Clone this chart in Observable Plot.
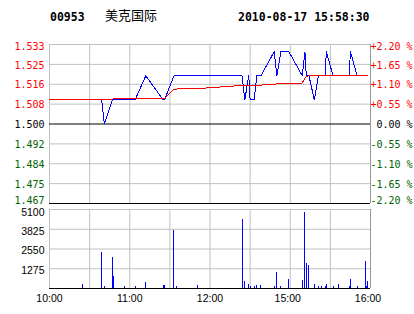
<!DOCTYPE html>
<html><head><meta charset="utf-8">
<script src="https://cdn.jsdelivr.net/npm/d3@7"></script>
<script src="https://cdn.jsdelivr.net/npm/@observablehq/plot@0.6"></script>
<style>
html,body{margin:0;padding:0;background:#fff;}
#wrap{position:relative;width:414px;height:314px;overflow:hidden;background:#fff;}
.t{position:absolute;white-space:nowrap;color:#000;}
.code,.date{font:bold 11.5px "DejaVu Sans Mono",monospace;line-height:12px;top:11px;}
.name{font:13px "Noto Sans CJK SC",sans-serif;line-height:13px;top:8px;}
#price,#vol{position:absolute;left:0;}
#price{top:0px;}
#vol{top:206px;}
</style></head><body>
<div id="wrap">
  <div class="t code" id="code" style="left:50px"></div>
  <div class="t name" id="name" style="left:105px"></div>
  <div class="t date" id="date" style="left:238px"></div>
  <div id="price"></div>
  <div id="vol"></div>
</div>
<script>
// ---- data ----
const stockCode = "00953";
const stockName = "美克国际";
const stamp = "2010-08-17 15:58:30";
const prevClose = 1.500;

const pctTicks = [2.20, 1.65, 1.10, 0.55, 0, -0.55, -1.10, -1.65, -2.20];
const priceLabels = ["1.533","1.525","1.516","1.508","1.500","1.492","1.484","1.475","1.467"];
const pctLabels = ["+2.20 %","+1.65 %","+1.10 %","+0.55 %","\u00a00.00 %","-0.55 %","-1.10 %","-1.65 %","-2.20 %"];

const gridTimes = ["10:00","10:30","11:00","11:30","12:00","12:30","15:00","15:30","16:00"];
const xLabels = ["10:00","11:00","12:00","15:00","16:00"];

const volTicks = [1275, 2550, 3825, 5100];
const volLabels = ["1275","2550","3825","5100"];

const priceTimes = ["10:25","10:39","10:41","10:47","10:48","10:56","11:04","11:12","11:25","11:26","11:33","11:35","11:51",
  "12:24","12:26","12:29","14:30","14:33","14:35","14:38","14:48","14:50","14:53","14:59","15:09","15:11","15:12","15:14",
  "15:18","15:21","15:23","15:26","15:27","15:32","15:36","15:44","15:45","15:50","15:56","15:57","15:58"];
const prices = [1.51,1.51,1.50,1.51,1.51,1.51,1.51,1.52,1.51,1.51,1.52,1.52,1.52,
  1.52,1.51,1.52,1.51,1.51,1.52,1.52,1.53,1.52,1.53,1.53,1.52,1.53,1.52,1.52,
  1.51,1.52,1.52,1.52,1.53,1.52,1.52,1.52,1.53,1.52,1.52,1.52,1.52];

const avgTimes = ["10:00","10:39","11:26","11:33","11:51","12:24","14:48","14:50","15:09","15:11","15:14","15:58"];
const avgPrices = [1.5103,1.5103,1.5107,1.5145,1.5147,1.5160,1.5163,1.5168,1.5170,1.5192,1.5201,1.5201];

const volTimes = ["10:25","10:39","10:41","10:47","10:48","10:56","11:04","11:12","11:25","11:26","11:33","11:35","11:51",
  "12:24","12:26","12:29","14:30","14:33","14:35","14:38","14:48","14:50","14:53","14:59","15:09","15:11","15:12","15:14",
  "15:18","15:21","15:23","15:26","15:27","15:32","15:36","15:44","15:45","15:50","15:56","15:57","15:58"];
const volumes = [240,2300,110,1980,750,110,110,370,180,180,3720,110,180,
  4430,430,240,130,130,190,190,130,1010,130,560,500,4890,1600,1470,
  240,130,130,130,240,130,240,130,560,130,1720,130,430];

// ---- helpers ----
function toT(s){ const [h,m]=s.split(":").map(Number); const mm=h*60+m; return mm<=750 ? mm-600 : 150+(mm-870); }

document.getElementById("code").textContent = stockCode;
document.getElementById("name").textContent = stockName;
document.getElementById("date").textContent = stamp;

const lo = prevClose*(1+pctTicks[pctTicks.length-1]/100);
const hi = prevClose*(1+pctTicks[0]/100);
const tickVals = pctTicks.map(p => prevClose*(1+p/100));
const gridT = gridTimes.map(toT);
const RED="#ff0000", GREEN="#006400", GRID="#c0c0c0";

const lab = pctTicks.map((p,i)=>({i, v:tickVals[i], left:priceLabels[i], right:pctLabels[i], c: p>0?RED:(p<0?GREEN:"#000000")}));
const nL = lab.length;
const blue = priceTimes.map((s,i)=>({t:toT(s), p:prices[i]}));
const avg = avgTimes.map((s,i)=>({t:toT(s), p:avgPrices[i]}));
const vol = volTimes.map((s,i)=>({t:toT(s), v:volumes[i]}));

function priceText(filter, dy){
  return [
    Plot.text(lab, {filter, y:"v", text:"left", fill:"c", frameAnchor:"left", textAnchor:"end", dx:-5, dy, fontFamily:"DejaVu Sans Mono", fontSize:10}),
    Plot.text(lab, {filter, y:"v", text:"right", fill:"c", frameAnchor:"right", textAnchor:"start", dx:0, dy, fontFamily:"DejaVu Sans Mono", fontSize:10})
  ];
}

const pricePlot = Plot.plot({
  width:414, height:206, marginTop:44, marginBottom:3, marginLeft:49, marginRight:44,
  style:{background:"transparent"},
  x:{domain:[0,240], axis:null},
  y:{domain:[lo,hi], axis:null},
  color:{type:"identity"},
  marks:[
    Plot.ruleY(tickVals.filter((v,i)=>pctTicks[i]!==0 && i!==nL-1), {stroke:GRID}),
    Plot.ruleX(gridT, {stroke:GRID}),
    Plot.ruleX([240], {stroke:"#999"}),
    Plot.ruleY([prevClose], {stroke:"#000"}),
    Plot.ruleY([lo], {stroke:"#000"}),
    Plot.line(blue, {x:"t", y:"p", stroke:"#0000ff", strokeWidth:1, shapeRendering:"crispEdges"}),
    Plot.line(avg, {x:"t", y:"p", stroke:RED, strokeWidth:1, shapeRendering:"crispEdges"}),
    ...priceText(d=>d.i===0, 2),
    ...priceText(d=>d.i>0 && d.i<nL-1, 1),
    ...priceText(d=>d.i===nL-1, -2.5)
  ]
});
document.getElementById("price").appendChild(pricePlot);

const vlab = volTicks.map((v,i)=>({v, s:volLabels[i], top: v===d3.max(volTicks)}));
const volPlot = Plot.plot({
  width:414, height:108, marginTop:3, marginBottom:26, marginLeft:49, marginRight:44,
  style:{background:"transparent"},
  x:{domain:[0,240], axis:null},
  y:{domain:[0,d3.max(volTicks)], axis:null},
  marks:[
    Plot.ruleY(volTicks, {stroke:GRID}),
    Plot.ruleX(gridT, {stroke:GRID}),
    Plot.ruleX([240], {stroke:"#999"}),
    Plot.ruleX(vol, {x:"t", y1:0, y2:"v", stroke:"#0000ff", strokeWidth:1, shapeRendering:"crispEdges"}),
    Plot.ruleY([0], {stroke:"#000"}),
    Plot.text(vlab, {filter:d=>d.top, y:"v", text:"s", frameAnchor:"left", textAnchor:"end", dx:-5, dy:3.5, fontFamily:"Liberation Sans", fontSize:10.5, fill:"#000"}),
    Plot.text(vlab, {filter:d=>!d.top, y:"v", text:"s", frameAnchor:"left", textAnchor:"end", dx:-5, dy:2, fontFamily:"Liberation Sans", fontSize:10.5, fill:"#000"}),
    Plot.text(xLabels, {filter:d=>toT(d)<=150, x:d=>toT(d), text:d=>d, frameAnchor:"bottom", lineAnchor:"middle", dy:10, fontFamily:"Liberation Sans", fontSize:10.5, fill:"#000"}),
    Plot.text(xLabels, {filter:d=>toT(d)>150, x:d=>toT(d), text:d=>d, frameAnchor:"bottom", lineAnchor:"middle", dy:10, dx:-2.5, fontFamily:"Liberation Sans", fontSize:10.5, fill:"#000"})
  ]
});
document.getElementById("vol").appendChild(volPlot);
</script>
</body></html>
